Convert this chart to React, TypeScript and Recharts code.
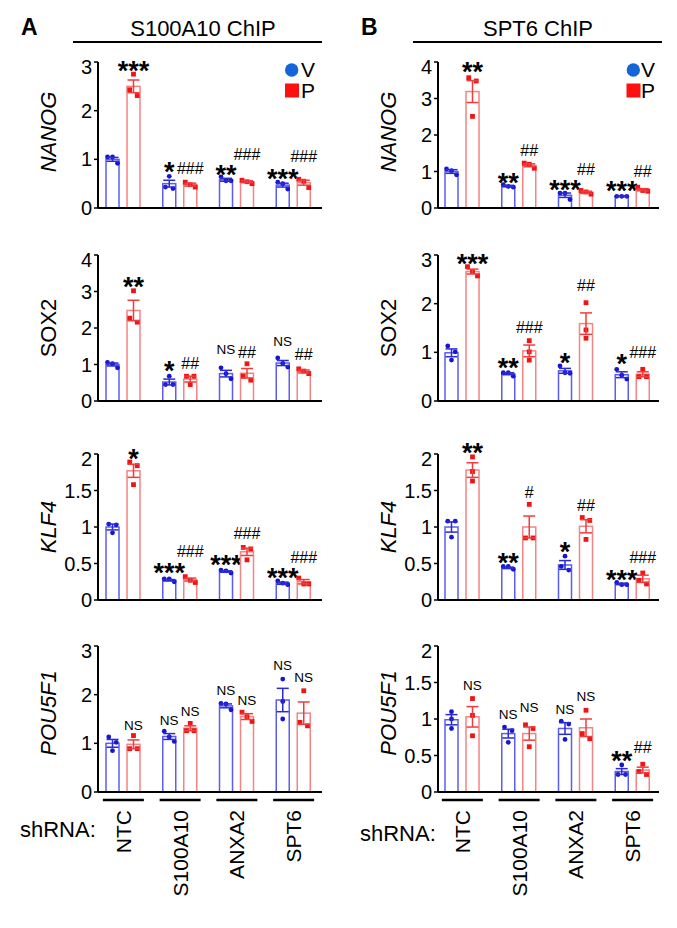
import React from "react";
import { BarChart, Bar, XAxis, YAxis, ErrorBar } from "recharts";

const FONT = "'Liberation Sans', Arial, Helvetica, sans-serif";
const BLUE_BAR = "#5d5def";
const RED_BAR = "#f58484";
const BLUE_PT = "#1616cf";
const RED_PT = "#f01414";
const BLUE_ERR = "#2a2ad6";
const RED_ERR = "#f03c3c";

const groups = ["NTC", "S100A10", "ANXA2", "SPT6"];

// ---------- Panel A: S100A10 ChIP ----------
const aNanogVMean = [1.0, 0.5, 0.58, 0.47];
const aNanogVSem = [0.04, 0.07, 0.03, 0.04];
const aNanogVPts = [[1.05, 1.05, 0.92], [0.65, 0.43, 0.4], [0.64, 0.56, 0.56], [0.53, 0.5, 0.39]];
const aNanogPMean = [2.5, 0.48, 0.54, 0.52];
const aNanogPSem = [0.13, 0.03, 0.02, 0.05];
const aNanogPPts = [[2.75, 2.43, 2.31], [0.53, 0.48, 0.43], [0.57, 0.54, 0.5], [0.59, 0.55, 0.42]];
const aNanogVSig = ["", "*", "**", "***"];
const aNanogPSig = ["***", "###", "###", "###"];
const aNanogVSigAt = [0, 0.89, 0.82, 0.75];
const aNanogPSigAt = [2.96, 0.82, 1.11, 1.07];

const aSox2VMean = [1.0, 0.52, 0.75, 1.04];
const aSox2VSem = [0.04, 0.08, 0.09, 0.07];
const aSox2VPts = [[1.06, 1.02, 0.91], [0.68, 0.45, 0.45], [0.91, 0.75, 0.61], [1.18, 1.03, 0.93]];
const aSox2PMean = [2.48, 0.6, 0.76, 0.81];
const aSox2PSem = [0.28, 0.08, 0.13, 0.04];
const aSox2PPts = [[3.02, 2.27, 2.16], [0.68, 0.68, 0.45], [1.02, 0.68, 0.57], [0.88, 0.82, 0.75]];
const aSox2VSig = ["", "*", "NS", "NS"];
const aSox2PSig = ["**", "##", "##", "##"];
const aSox2VSigAt = [0, 1.03, 1.43, 1.64];
const aSox2PSigAt = [3.32, 1.03, 1.34, 1.27];

const aKlf4VMean = [1.0, 0.27, 0.39, 0.23];
const aKlf4VSem = [0.04, 0.01, 0.01, 0.015];
const aKlf4VPts = [[1.04, 1.03, 0.92], [0.29, 0.29, 0.25], [0.41, 0.4, 0.37], [0.26, 0.23, 0.21]];
const aKlf4PMean = [1.77, 0.28, 0.66, 0.25];
const aKlf4PSem = [0.09, 0.02, 0.05, 0.03];
const aKlf4PPts = [[1.89, 1.84, 1.58], [0.32, 0.27, 0.24], [0.72, 0.7, 0.55], [0.3, 0.22, 0.22]];
const aKlf4VSig = ["", "***", "***", "***"];
const aKlf4PSig = ["*", "###", "###", "###"];
const aKlf4VSigAt = [0, 0.47, 0.58, 0.4];
const aKlf4PSigAt = [2.03, 0.67, 0.91, 0.59];

const aPouVMean = [1.0, 1.14, 1.77, 1.89];
const aPouVSem = [0.08, 0.06, 0.04, 0.24];
const aPouVPts = [[1.13, 1.02, 0.85], [1.25, 1.13, 1.04], [1.82, 1.81, 1.69], [2.32, 1.86, 1.5]];
const aPouPMean = [0.98, 1.31, 1.55, 1.62];
const aPouPSem = [0.09, 0.05, 0.06, 0.23];
const aPouPPts = [[1.16, 0.89, 0.89], [1.41, 1.26, 1.26], [1.64, 1.55, 1.45], [2.08, 1.43, 1.36]];
const aPouVSig = ["", "NS", "NS", "NS"];
const aPouPSig = ["NS", "NS", "NS", "NS"];
const aPouVSigAt = [0, 1.48, 2.1, 2.61];
const aPouPSigAt = [1.38, 1.67, 1.89, 2.36];

// ---------- Panel B: SPT6 ChIP ----------
const bNanogVMean = [1.0, 0.6, 0.35, 0.32];
const bNanogVSem = [0.05, 0.02, 0.06, 0.01];
const bNanogVPts = [[1.07, 1.02, 0.91], [0.64, 0.59, 0.57], [0.41, 0.41, 0.23], [0.32, 0.32, 0.32]];
const bNanogPMean = [3.19, 1.17, 0.43, 0.5];
const bNanogPSem = [0.3, 0.04, 0.03, 0.03];
const bNanogPPts = [[3.57, 3.48, 2.51], [1.23, 1.2, 1.09], [0.48, 0.44, 0.38], [0.57, 0.48, 0.46]];
const bNanogVSig = ["", "**", "***", "***"];
const bNanogPSig = ["**", "##", "##", "##"];
const bNanogVSigAt = [0, 0.89, 0.68, 0.66];
const bNanogPSigAt = [3.92, 1.58, 1.05, 1.0];

const bSox2VMean = [0.99, 0.56, 0.62, 0.54];
const bSox2VSem = [0.08, 0.02, 0.05, 0.06];
const bSox2VPts = [[1.13, 1.01, 0.84], [0.58, 0.58, 0.51], [0.72, 0.58, 0.57], [0.65, 0.53, 0.45]];
const bSox2PMean = [2.66, 1.03, 1.59, 0.55];
const bSox2PSem = [0.05, 0.12, 0.22, 0.05];
const bSox2PPts = [[2.76, 2.66, 2.57], [1.24, 1.01, 0.84], [2.02, 1.46, 1.29], [0.65, 0.5, 0.5]];
const bSox2VSig = ["", "**", "*", "*"];
const bSox2PSig = ["***", "###", "##", "###"];
const bSox2VSigAt = [0, 0.82, 0.93, 0.91];
const bSox2PSigAt = [2.97, 1.51, 2.37, 1.0];

const bKlf4VMean = [1.0, 0.44, 0.48, 0.22];
const bKlf4VSem = [0.07, 0.01, 0.06, 0.01];
const bKlf4VPts = [[1.08, 1.08, 0.86], [0.46, 0.46, 0.42], [0.6, 0.46, 0.41], [0.24, 0.21, 0.21]];
const bKlf4PMean = [1.78, 1.0, 1.01, 0.29];
const bKlf4PSem = [0.1, 0.15, 0.09, 0.05];
const bKlf4PPts = [[1.96, 1.76, 1.63], [1.31, 0.85, 0.85], [1.13, 1.09, 0.83], [0.37, 0.27, 0.22]];
const bKlf4VSig = ["", "**", "*", "***"];
const bKlf4PSig = ["**", "#", "##", "###"];
const bKlf4VSigAt = [0, 0.6, 0.76, 0.37];
const bKlf4PSigAt = [2.11, 1.47, 1.3, 0.59];

const bPouVMean = [0.99, 0.8, 0.87, 0.28];
const bPouVSem = [0.07, 0.06, 0.08, 0.04];
const bPouVPts = [[1.1, 1.0, 0.87], [0.89, 0.84, 0.68], [0.97, 0.93, 0.72], [0.37, 0.24, 0.24]];
const bPouPMean = [1.03, 0.8, 0.88, 0.3];
const bPouPSem = [0.14, 0.09, 0.12, 0.04];
const bPouPPts = [[1.28, 1.05, 0.77], [0.92, 0.87, 0.62], [1.12, 0.8, 0.73], [0.38, 0.28, 0.24]];
const bPouVSig = ["", "NS", "NS", "**"];
const bPouPSig = ["NS", "NS", "NS", "##"];
const bPouVSigAt = [0, 1.06, 1.13, 0.53];
const bPouPSigAt = [1.47, 1.16, 1.31, 0.62];

// ticks
const ticks0to3 = [0, 1, 2, 3];
const ticks0to4 = [0, 1, 2, 3, 4];
const ticksHalf0to2 = [0, 0.5, 1, 1.5, 2];

const geneLabels = ["NANOG", "SOX2", "KLF4", "POU5F1"];
const geneItalic = [true, false, true, true];
const panelTitles = ["S100A10 ChIP", "SPT6 ChIP"];
const panelLetters = ["A", "B"];
const legendNames = ["V", "P"];

const ROW_TOPS = [62, 255, 454, 646];
const PLOT_H = 146;
const LABEL_CY = [132, 328, 527, 713];

function build(vMean, vSem, vPts, pMean, pSem, pPts, vSig, pSig, vSigAt, pSigAt) {
  return groups.map((g, i) => ({
    g,
    vMean: vMean[i], vSem: vSem[i], vPts: vPts[i], vSig: vSig[i], vSigAt: vSigAt[i],
    pMean: pMean[i], pSem: pSem[i], pPts: pPts[i], pSig: pSig[i], pSigAt: pSigAt[i],
  }));
}

const panels = [
  { col: 0, row: 0, max: 3, ticks: ticks0to3, data: build(aNanogVMean, aNanogVSem, aNanogVPts, aNanogPMean, aNanogPSem, aNanogPPts, aNanogVSig, aNanogPSig, aNanogVSigAt, aNanogPSigAt) },
  { col: 0, row: 1, max: 4, ticks: ticks0to4, data: build(aSox2VMean, aSox2VSem, aSox2VPts, aSox2PMean, aSox2PSem, aSox2PPts, aSox2VSig, aSox2PSig, aSox2VSigAt, aSox2PSigAt) },
  { col: 0, row: 2, max: 2, ticks: ticksHalf0to2, data: build(aKlf4VMean, aKlf4VSem, aKlf4VPts, aKlf4PMean, aKlf4PSem, aKlf4PPts, aKlf4VSig, aKlf4PSig, aKlf4VSigAt, aKlf4PSigAt) },
  { col: 0, row: 3, max: 3, ticks: ticks0to3, data: build(aPouVMean, aPouVSem, aPouVPts, aPouPMean, aPouPSem, aPouPPts, aPouVSig, aPouPSig, aPouVSigAt, aPouPSigAt) },
  { col: 1, row: 0, max: 4, ticks: ticks0to4, data: build(bNanogVMean, bNanogVSem, bNanogVPts, bNanogPMean, bNanogPSem, bNanogPPts, bNanogVSig, bNanogPSig, bNanogVSigAt, bNanogPSigAt) },
  { col: 1, row: 1, max: 3, ticks: ticks0to3, data: build(bSox2VMean, bSox2VSem, bSox2VPts, bSox2PMean, bSox2PSem, bSox2PPts, bSox2VSig, bSox2PSig, bSox2VSigAt, bSox2PSigAt) },
  { col: 1, row: 2, max: 2, ticks: ticksHalf0to2, data: build(bKlf4VMean, bKlf4VSem, bKlf4VPts, bKlf4PMean, bKlf4PSem, bKlf4PPts, bKlf4VSig, bKlf4PSig, bKlf4VSigAt, bKlf4PSigAt) },
  { col: 1, row: 3, max: 2, ticks: ticksHalf0to2, data: build(bPouVMean, bPouVSem, bPouVPts, bPouPMean, bPouPSem, bPouPPts, bPouVSig, bPouPSig, bPouVSigAt, bPouPSigAt) },
];

// GraphPad-like scatter: points that nearly overlap vertically are spread in a row
function swarm(vals: number[], ppu: number) {
  const s = [...vals].sort((a, b) => b - a);
  const rows: number[][] = [];
  let cur = [s[0]];
  for (let i = 1; i < s.length; i++) {
    if ((s[i - 1] - s[i]) * ppu < 7) cur.push(s[i]);
    else { rows.push(cur); cur = [s[i]]; }
  }
  rows.push(cur);
  const out: { v: number; dx: number }[] = [];
  rows.forEach((r) => {
    const n = r.length;
    const sp = n === 2 ? 7.5 : 5;
    r.forEach((v, i) => out.push({ v, dx: (i - (n - 1) / 2) * sp }));
  });
  return out;
}

function makeShape(series: "v" | "p") {
  return (props: any) => {
    const { x, y, width, height, payload } = props;
    const mean = payload[series + "Mean"];
    const pts = payload[series + "Pts"];
    const sig = payload[series + "Sig"];
    const sigAt = payload[series + "SigAt"];
    const base = y + height;
    const ppu = height / mean;
    const cx = x + width / 2;
    const isV = series === "v";
    const star = sig && sig.startsWith("*");
    const fs = star ? 27 : sig === "NS" ? 13.5 : 16;
    const yc = base - sigAt * ppu;
    const baseline = star ? yc + 0.6 * fs : yc + 0.36 * fs;
    return (
      <g>
        <rect x={x} y={y} width={width} height={height} fill="#fff" stroke={isV ? BLUE_BAR : RED_BAR} strokeWidth={1.5} />
        {swarm(pts, ppu).map((p, i) =>
          isV ? (
            <circle key={i} cx={cx + p.dx} cy={base - p.v * ppu} r={2.4} fill={BLUE_PT} />
          ) : (
            <rect key={i} x={cx + p.dx - 2.4} y={base - p.v * ppu - 2.4} width={4.8} height={4.8} fill={RED_PT} />
          )
        )}
        {sig ? (
          <text x={cx} y={baseline} textAnchor="middle" fontSize={fs} fontWeight={star ? "bold" : "normal"} fontFamily={FONT} fill="#000">
            {sig}
          </text>
        ) : null}
      </g>
    );
  };
}

const CatTick = (props: any) => {
  const { x, y, payload } = props;
  return (
    <g>
      <line x1={x - 20.5} x2={x + 20.5} y1={y + 8} y2={y + 8} stroke="#000" strokeWidth={2.5} />
      <text
        x={x + 7.5}
        y={y + 18}
        transform={`rotate(-90 ${x + 7.5} ${y + 18})`}
        textAnchor="end"
        fontSize={21}
        fontFamily={FONT}
        fill="#000"
      >
        {payload.value}
      </text>
    </g>
  );
};

function makeYTick(max: number) {
  return (props: any) => {
    const { x, y, payload } = props;
    const shift = payload.value === max ? 5 : 0;
    return (
      <text x={x} y={y + 7 + shift} textAnchor="end" fontSize={20} fontFamily={FONT} fill="#000">
        {String(payload.value)}
      </text>
    );
  };
}

function Panel({ cfg }: { cfg: any }) {
  const left = cfg.col === 0 ? 0 : 340;
  const width = cfg.col === 0 ? 340 : 337;
  const mTop = 45;
  const isBottom = cfg.row === 3;
  const xh = isBottom ? 120 : 2;
  const mBottom = 14;
  const height = mTop + PLOT_H + xh + mBottom;
  const pad = cfg.col === 0 ? { left: -3, right: 0 } : { left: -4, right: -2 };
  return (
    <div style={{ position: "absolute", left, top: ROW_TOPS[cfg.row] - mTop }}>
      <BarChart
        width={width}
        height={height}
        data={cfg.data}
        margin={{ top: mTop, right: 18, bottom: mBottom, left: 38 }}
        barSize={13}
        barGap={8}
      >
        <XAxis
          dataKey="g"
          padding={pad}
          axisLine={{ stroke: "#000", strokeWidth: 2 }}
          tickLine={false}
          tickSize={0}
          tickMargin={0}
          height={xh}
          interval={0}
          tick={isBottom ? (p: any) => <CatTick {...p} /> : false}
        />
        <YAxis
          width={60}
          domain={[0, cfg.max]}
          ticks={cfg.ticks}
          interval={0}
          axisLine={{ stroke: "#000", strokeWidth: 2 }}
          tickLine={{ stroke: "#000", strokeWidth: 1.5 }}
          tickSize={4}
          tickMargin={2}
          tick={makeYTick(cfg.max)}
        />
        <Bar dataKey="vMean" isAnimationActive={false} shape={makeShape("v")}>
          <ErrorBar dataKey="vSem" width={6} stroke={BLUE_ERR} strokeWidth={1.5} direction="y" isAnimationActive={false} />
        </Bar>
        <Bar dataKey="pMean" isAnimationActive={false} shape={makeShape("p")}>
          <ErrorBar dataKey="pSem" width={6} stroke={RED_ERR} strokeWidth={1.5} direction="y" isAnimationActive={false} />
        </Bar>
      </BarChart>
    </div>
  );
}

function Overlay() {
  const colX = [0, 340];
  return (
    <svg width={677} height={928} style={{ position: "absolute", left: 0, top: 0, pointerEvents: "none" }}>
      {[0, 1].map((c) => {
        const ox = colX[c];
        return (
          <g key={c} fontFamily={FONT} fill="#000">
            <text x={ox + 21} y={35} fontSize={23} fontWeight="bold">{panelLetters[c]}</text>
            <text x={c === 0 ? 203 : 538} y={35.5} fontSize={22} textAnchor="middle">{panelTitles[c]}</text>
            <line x1={c === 0 ? 73 : 413} x2={c === 0 ? 322 : 662} y1={42} y2={42} stroke="#000" strokeWidth={2} />
            {/* legend */}
            <circle cx={c === 0 ? 291.7 : 633.3} cy={70} r={6.7} fill="#1466d8" />
            <text x={c === 0 ? 301 : 641} y={77} fontSize={21}>{legendNames[0]}</text>
            <rect x={c === 0 ? 285 : 626.5} y={83.5} width={14} height={14} fill="#ff1010" />
            <text x={c === 0 ? 301 : 641} y={98} fontSize={21}>{legendNames[1]}</text>
            {geneLabels.map((gname, r) => (
              <text
                key={gname}
                x={ox + 48}
                y={LABEL_CY[r]}
                transform={`rotate(-90 ${ox + 48} ${LABEL_CY[r]})`}
                textAnchor="middle"
                dominantBaseline="central"
                fontSize={22}
                fontStyle={geneItalic[r] ? "italic" : "normal"}
              >
                {gname}
              </text>
            ))}
            <text x={ox + 20} y={c === 0 ? 837 : 841} fontSize={22}>shRNA:</text>
          </g>
        );
      })}
    </svg>
  );
}

export default function App() {
  return (
    <div style={{ position: "absolute", left: 0, top: 0, width: 677, height: 928, background: "#fff", overflow: "hidden" }}>
      {panels.map((p, i) => (
        <Panel key={i} cfg={p} />
      ))}
      <Overlay />
    </div>
  );
}
